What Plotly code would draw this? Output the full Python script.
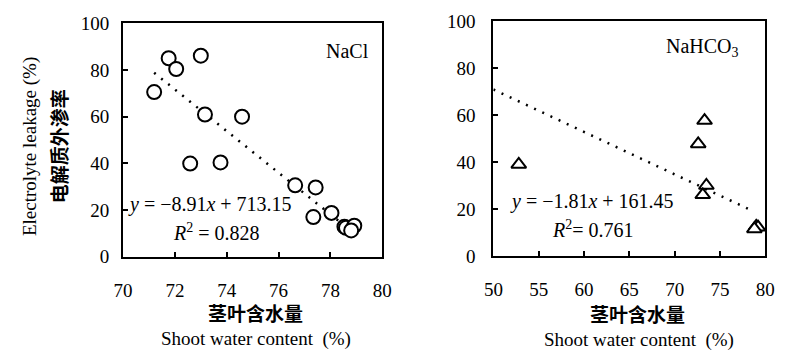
import plotly.graph_objects as go

# ---- data ----
nacl_x = [71.2, 71.76, 72.05, 73.0, 73.16, 74.59, 72.59, 73.76, 76.64, 77.43, 77.34, 78.04, 78.54, 78.6, 78.92, 78.8]
nacl_y = [70.5, 85.0, 80.4, 86.1, 60.9, 60.0, 39.9, 40.4, 30.6, 29.7, 17.0, 18.8, 12.9, 12.4, 13.3, 11.3]
nacl_fit = [-8.91, 713.15]
nacl_r2 = 0.828

nahco3_x = [52.8, 72.6, 73.3, 73.5, 73.1, 79.0, 79.2, 78.8]
nahco3_y = [39.0, 47.7, 57.7, 30.0, 26.0, 12.6, 12.2, 11.5]
nahco3_fit = [-1.81, 161.45]
nahco3_fit_range = [50, 78.5]
nahco3_r2 = 0.761

W, H = 786, 362
def px(x):
    return x / W
def py(y):
    return (H - y) / H

SERIF = "Liberation Serif"
CJK = "Noto Sans CJK SC"

fig = go.Figure()

# trendlines
x0, x1 = min(nacl_x), max(nacl_x)
fig.add_trace(go.Scatter(x=[x0, x1], y=[nacl_fit[0]*x0 + nacl_fit[1], nacl_fit[0]*x1 + nacl_fit[1]],
                         mode="lines", line=dict(color="black", width=2.5, dash="2px,7px"),
                         xaxis="x", yaxis="y", showlegend=False))
a0, a1 = nahco3_fit_range
fig.add_trace(go.Scatter(x=[a0, a1], y=[nahco3_fit[0]*a0 + nahco3_fit[1], nahco3_fit[0]*a1 + nahco3_fit[1]],
                         mode="lines", line=dict(color="black", width=2.5, dash="2px,7px"),
                         xaxis="x2", yaxis="y2", showlegend=False))

# markers
fig.add_trace(go.Scatter(x=nacl_x, y=nacl_y, mode="markers",
                         marker=dict(symbol="circle", size=14, color="white",
                                     line=dict(color="black", width=2)),
                         xaxis="x", yaxis="y", showlegend=False))
fig.add_trace(go.Scatter(x=nahco3_x, y=nahco3_y, mode="markers",
                         marker=dict(symbol="triangle-up", size=13, color="white",
                                     line=dict(color="black", width=2)),
                         xaxis="x2", yaxis="y2", showlegend=False))

axis_common = dict(showline=True, linecolor="black", linewidth=2, mirror=True,
                   ticks="inside", ticklen=5, tickwidth=1.5, tickcolor="black",
                   showgrid=False, zeroline=False,
                   tickfont=dict(family=SERIF, size=19, color="black"))

fig.update_layout(
    width=W, height=H,
    margin=dict(l=0, r=0, t=0, b=0),
    paper_bgcolor="white", plot_bgcolor="white",
    xaxis=dict(domain=[px(116), px(382)], range=[70, 80], dtick=2, anchor="y",
               ticklabelstandoff=15, **axis_common),
    yaxis=dict(domain=[py(262), py(14)], range=[0, 100], dtick=20, anchor="x",
               ticklabelstandoff=8, **axis_common),
    xaxis2=dict(domain=[px(496), px(775)], range=[50, 80], dtick=5, anchor="y2",
                ticklabelstandoff=15, **axis_common),
    yaxis2=dict(domain=[py(261), py(12)], range=[0, 100], dtick=20, anchor="x2",
                ticklabelstandoff=12, **axis_common),
)

def ann(text, x, y, size=20, family=SERIF, angle=0):
    fig.add_annotation(text=text, x=px(x), y=py(y), xref="paper", yref="paper",
                       showarrow=False, xanchor="center", yanchor="middle",
                       textangle=angle, font=dict(family=family, size=size, color="black"))

ann("NaCl", 346, 43)
ann("NaHCO<sub>3</sub>", 711, 40)
ann(f"<i>y</i> = \u2212{abs(nacl_fit[0]):.2f}<i>x</i> + {nacl_fit[1]:.2f}", 205, 207)
ann(f"<i>R</i><sup>2</sup> = {nacl_r2:.3f}", 212, 236)
ann(f"<i>y</i> = \u2212{abs(nahco3_fit[0]):.2f}<i>x</i> + {nahco3_fit[1]:.2f}", 597, 203)
ann(f"<i>R</i><sup>2</sup>= {nahco3_r2:.3f}", 598, 233)

ann("Electrolyte leakage (%)", 20, 145, size=19, angle=-90)
ann("<b>电解质外渗率</b>", 50, 145, size=19, family=CJK, angle=-90)
ann("<b>茎叶含水量</b>", 252, 321, size=19, family=CJK)
ann("Shoot water content  (%)", 252, 349, size=19)
ann("<b>茎叶含水量</b>", 644, 322, size=19, family=CJK)
ann("Shoot water content  (%)", 645, 350, size=19)

fig.write_html("out.html", config={"displayModeBar": False},
               post_script="document.body.style.margin='0';document.body.style.overflow='hidden';")
